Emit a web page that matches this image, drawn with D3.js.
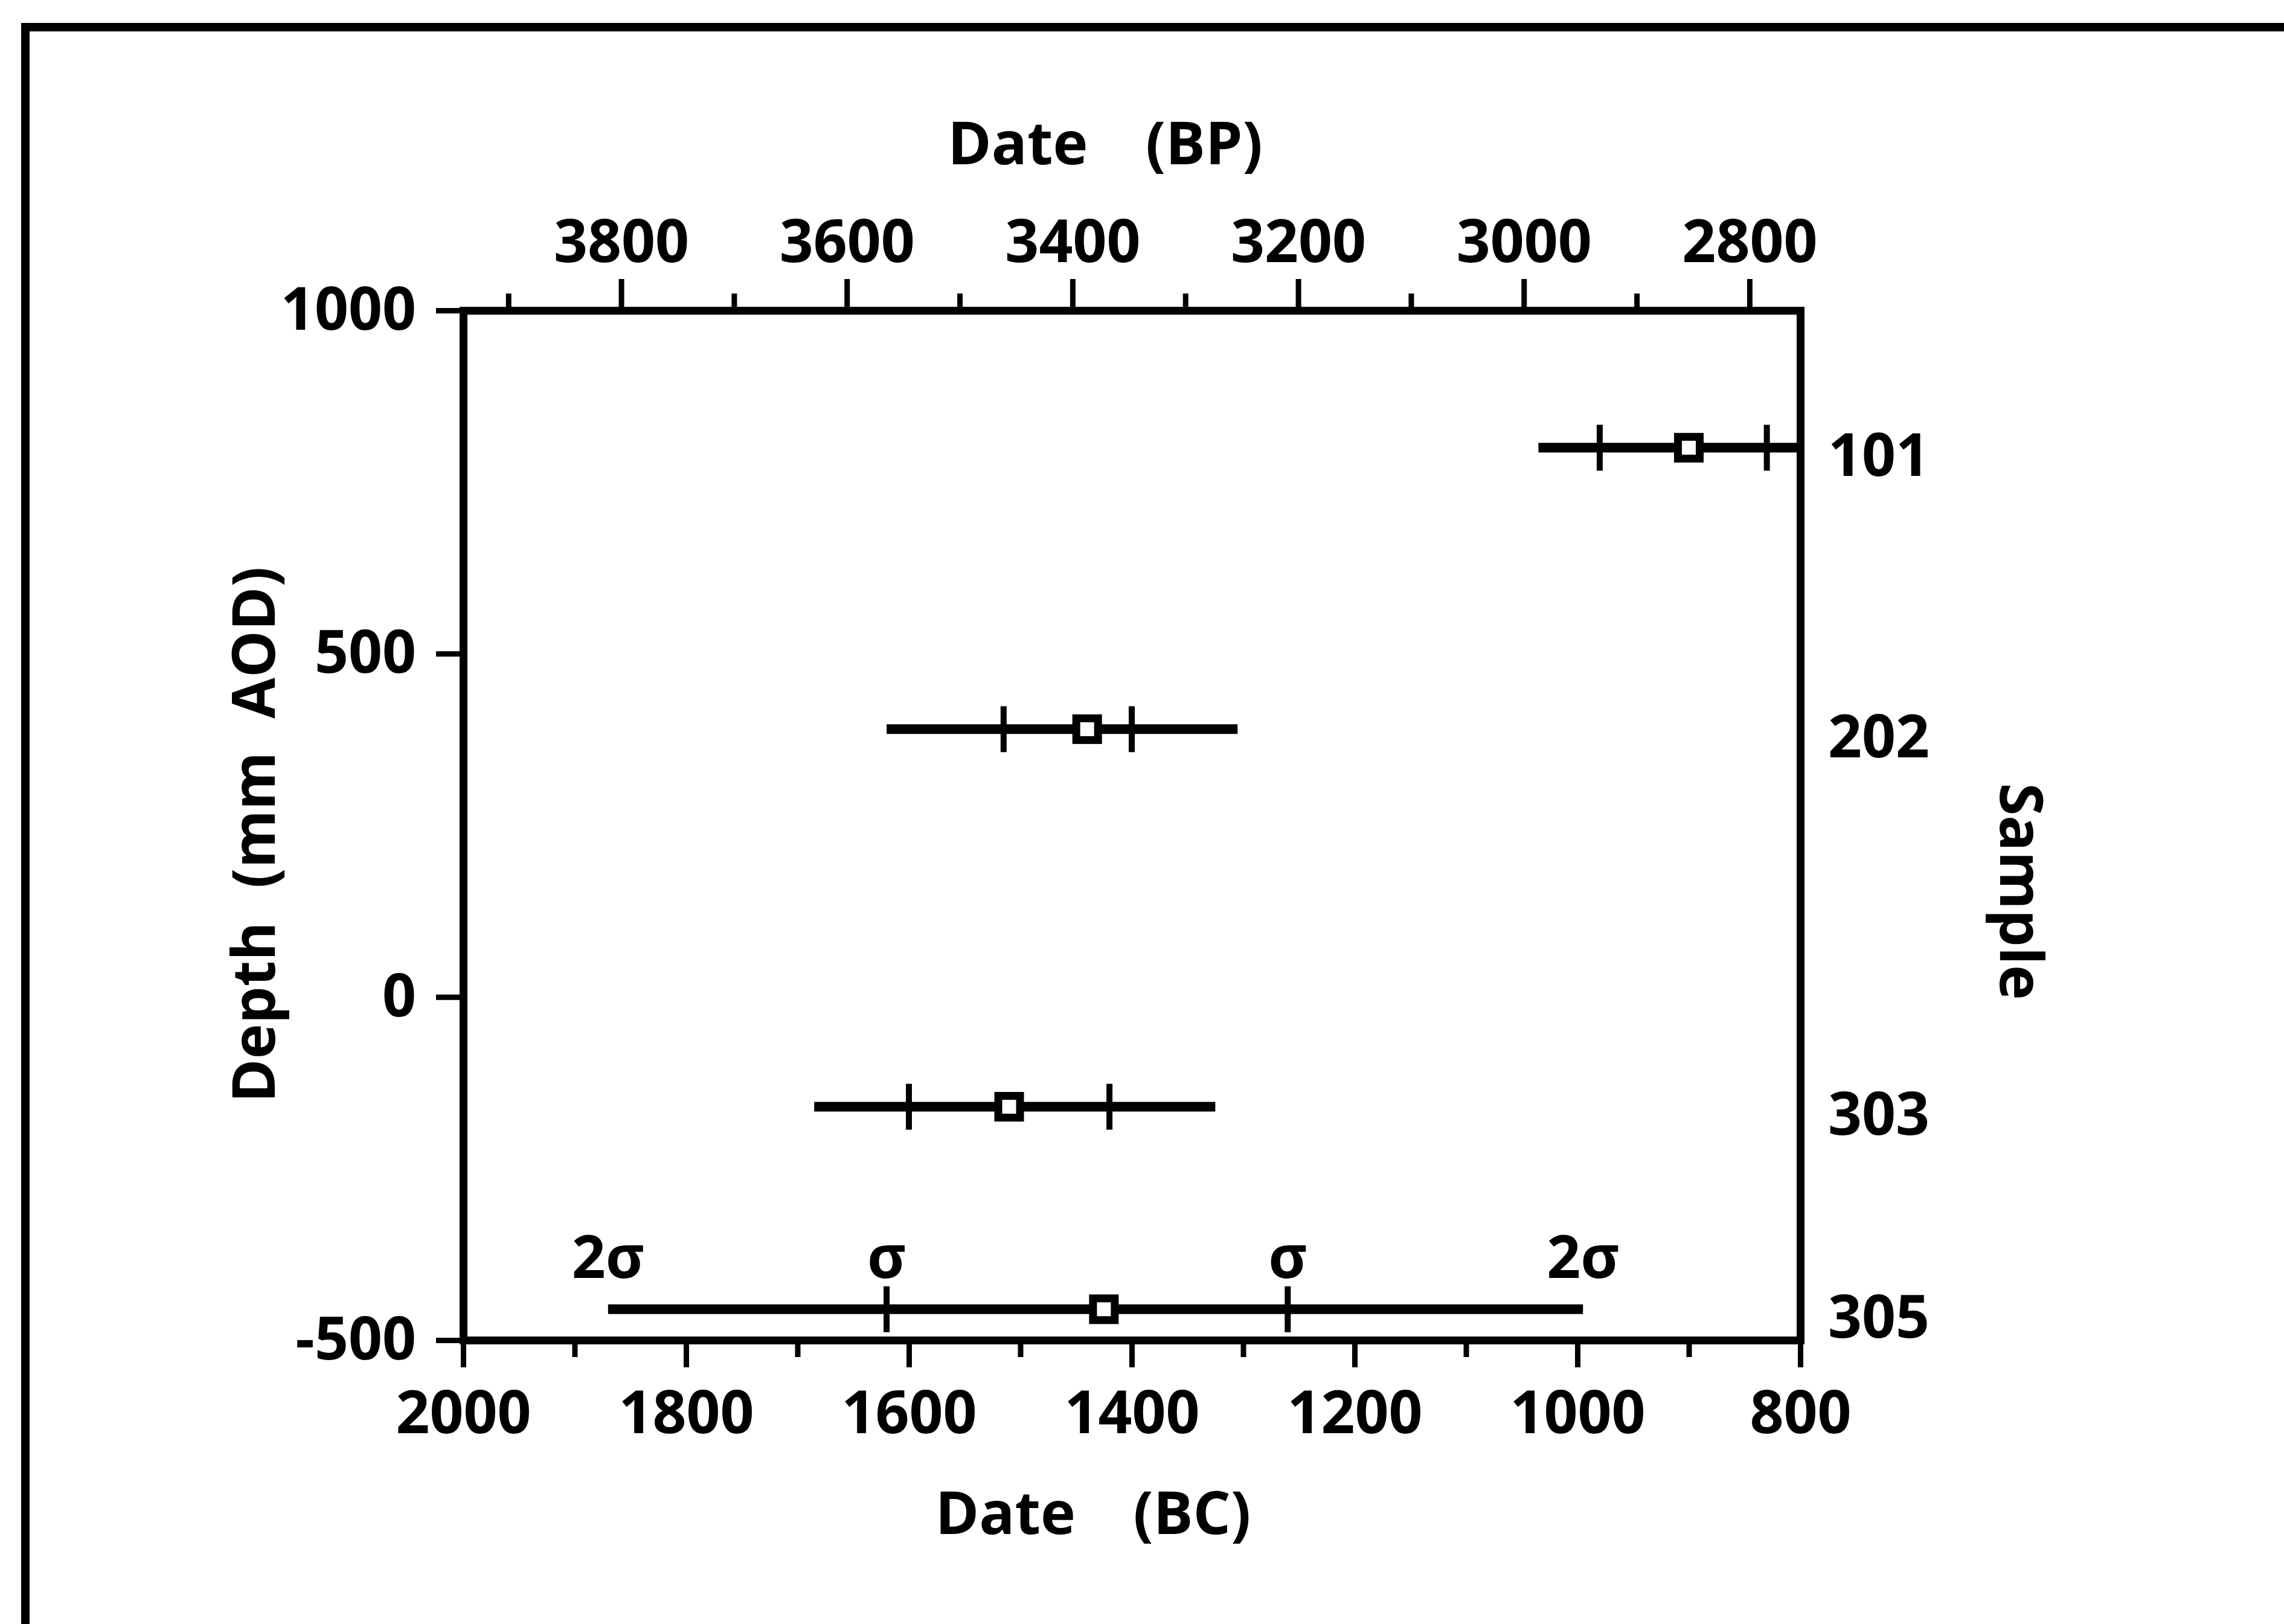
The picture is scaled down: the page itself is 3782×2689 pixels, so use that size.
<!DOCTYPE html>
<html><head><meta charset="utf-8">
<script src="https://cdn.jsdelivr.net/npm/d3@7"></script>
<style>
html,body{margin:0;padding:0;background:#fff;}
svg text{font-family:"Open Sans",sans-serif;font-weight:700;fill:#000;}
</style></head><body>
<svg id="chart" width="3782" height="2689"></svg>
<script>
// Radiocarbon samples: depth (mm AOD) and calibrated date ranges (years BC)
const samples = ["101", "202", "303", "305"];
const depth = [800, 390, -160, -455];
const median = [900, 1440, 1510, 1425];
const sigma1Old = [980, 1515, 1600, 1620];
const sigma1Young = [830, 1400, 1420, 1260];
const sigma2Old = [1035, 1620, 1685, 1870];
const sigma2Young = [765, 1305, 1325, 995];

// Axis ticks
const bcTicks = [2000, 1800, 1600, 1400, 1200, 1000, 800];
const bcMinor = [1900, 1700, 1500, 1300, 1100, 900];
const bpTicks = [3800, 3600, 3400, 3200, 3000, 2800];
const bpMinor = [3900, 3700, 3500, 3300, 3100, 2900];
const depthTicks = [1000, 500, 0, -500];
const sigmaLabels = ["2σ", "σ", "σ", "2σ"];

const plot = {left: 767, right: 2981, top: 514, bottom: 2219};
const FS = 98;

const svg = d3.select("#chart");
svg.append("rect").attr("width", 3782).attr("height", 2689).attr("fill", "#fff");

// page frame
svg.append("rect").attr("x", 42).attr("y", 45).attr("width", 4000).attr("height", 4000)
  .attr("fill", "none").attr("stroke", "#000").attr("stroke-width", 14);

const xBC = d3.scaleLinear().domain([2000, 800]).range([plot.left, plot.right]);
const xBP = d3.scaleLinear().domain([3940, 2755]).range([plot.left, plot.right]);
const y = d3.scaleLinear().domain([1000, -500]).range([plot.top, plot.bottom]);

const plain = d => String(d);

function styleAxis(g, showDomain) {
  g.selectAll(".domain").attr("stroke", "#000").attr("stroke-width", 13)
    .attr("stroke-linecap", "square");
  if (!showDomain) g.select(".domain").remove();
  g.selectAll(".tick line").attr("stroke", "#000").attr("stroke-width", 9);
  g.selectAll(".tick text").attr("font-size", FS);
  g.attr("font-family", null).attr("font-size", null);
}

// bottom axis (BC)
svg.append("g").attr("transform", `translate(0,${plot.bottom})`)
  .call(d3.axisBottom(xBC).tickValues(bcMinor).tickSize(28).tickSizeOuter(0).tickFormat(""))
  .call(g => styleAxis(g, false));
svg.append("g").attr("transform", `translate(0,${plot.bottom})`)
  .call(d3.axisBottom(xBC).tickValues(bcTicks).tickSize(45).tickSizeOuter(0).tickPadding(39).tickFormat(plain))
  .call(g => styleAxis(g, true));

// top axis (BP)
svg.append("g").attr("transform", `translate(0,${plot.top})`)
  .call(d3.axisTop(xBP).tickValues(bpMinor).tickSize(28).tickSizeOuter(0).tickFormat(""))
  .call(g => styleAxis(g, false));
svg.append("g").attr("transform", `translate(0,${plot.top})`)
  .call(d3.axisTop(xBP).tickValues(bpTicks).tickSize(52).tickSizeOuter(0).tickPadding(28).tickFormat(plain))
  .call(g => styleAxis(g, true));

// left axis (depth)
svg.append("g").attr("transform", `translate(${plot.left},0)`)
  .call(d3.axisLeft(y).tickValues(depthTicks).tickSize(45).tickSizeOuter(0).tickPadding(33).tickFormat(plain))
  .call(g => styleAxis(g, true));

// right axis (sample numbers at their depths)
svg.append("g").attr("transform", `translate(${plot.right},0)`)
  .call(d3.axisRight(y).tickValues(depth).tickSize(0).tickSizeOuter(0).tickPadding(46)
    .tickFormat((d, i) => samples[i]))
  .call(g => styleAxis(g, true))
  .call(g => g.selectAll(".tick text").attr("y", 15));

// date ranges
svg.append("clipPath").attr("id", "plotClip").append("rect")
  .attr("x", plot.left).attr("y", plot.top)
  .attr("width", plot.right - plot.left).attr("height", plot.bottom - plot.top);

const idx = d3.range(samples.length);
const marks = svg.append("g").attr("clip-path", "url(#plotClip)");

marks.selectAll("line.range2").data(idx).join("line").attr("class", "range2")
  .attr("x1", i => xBC(sigma2Old[i])).attr("x2", i => xBC(sigma2Young[i]))
  .attr("y1", i => y(depth[i])).attr("y2", i => y(depth[i]))
  .attr("stroke", "#000").attr("stroke-width", 16);

const sig1 = idx.flatMap(i => [[sigma1Old[i], depth[i]], [sigma1Young[i], depth[i]]]);
marks.selectAll("line.range1").data(sig1).join("line").attr("class", "range1")
  .attr("x1", d => xBC(d[0])).attr("x2", d => xBC(d[0]))
  .attr("y1", d => y(d[1]) - 38).attr("y2", d => y(d[1]) + 38)
  .attr("stroke", "#000").attr("stroke-width", 10);

marks.selectAll("rect.mid").data(idx).join("rect").attr("class", "mid")
  .attr("x", i => xBC(median[i]) - 18).attr("y", i => y(depth[i]) - 18)
  .attr("width", 36).attr("height", 36)
  .attr("fill", "#fff").attr("stroke", "#000").attr("stroke-width", 13);

// sigma labels over the lowest sample
const last = samples.length - 1;
const sigX = [sigma2Old[last], sigma1Old[last], sigma1Young[last], sigma2Young[last]];
svg.selectAll("text.sig").data(sigX).join("text").attr("class", "sig")
  .attr("x", d => xBC(d)).attr("y", y(depth[last]) - 52)
  .attr("text-anchor", "middle").attr("font-size", FS)
  .text((d, i) => sigmaLabels[i]);

// axis titles
svg.append("text").attr("x", 1830).attr("y", 272).attr("text-anchor", "middle")
  .attr("font-size", FS).style("word-spacing", "70px").text("Date (BP)");
svg.append("text").attr("x", 1810).attr("y", 2540).attr("text-anchor", "middle")
  .attr("font-size", FS).style("word-spacing", "70px").text("Date (BC)");
svg.append("text").attr("transform", "translate(455,1382) rotate(-90)")
  .attr("text-anchor", "middle").attr("font-size", FS).style("word-spacing", "30px")
  .text("Depth (mm AOD)");
svg.append("text").attr("transform", "translate(3312,1476) rotate(90)")
  .attr("text-anchor", "middle").attr("font-size", FS).text("Sample");
</script>
</body></html>
